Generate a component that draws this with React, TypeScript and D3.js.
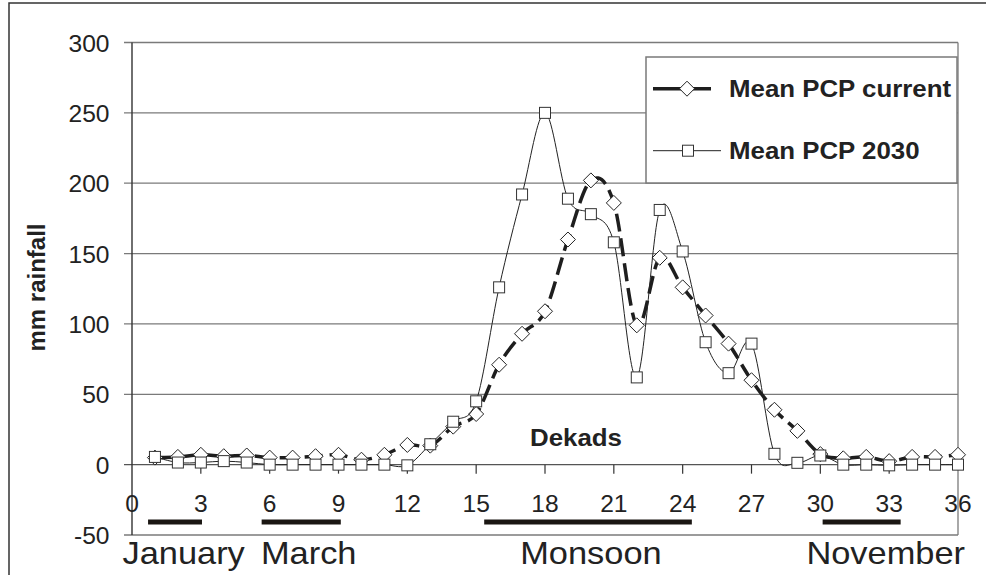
import React from 'react';
import * as d3 from 'd3';

// ---- Data ----
const dekads = [1, 2, 3, 4, 5, 6, 7, 8, 9, 10, 11, 12, 13, 14, 15, 16, 17, 18, 19, 20, 21, 22, 23, 24, 25, 26, 27, 28, 29, 30, 31, 32, 33, 34, 35, 36];
const meanPcpCurrent = [5, 5.5, 7, 6, 6.5, 5, 5, 6, 7, 3.5, 7, 14, 13.5, 27, 36, 71, 93, 109, 160, 202, 186, 99, 147, 126, 106, 86, 60, 39, 24, 7.5, 4.5, 5.5, 2.5, 5.5, 5.5, 7];
const meanPcp2030 = [5.5, 1.5, 1.5, 2.5, 1.5, 0, 0, 0, 0, 0, 0, -0.5, 14.5, 30.5, 45, 126, 192, 250, 189, 178, 158, 62, 181, 151.5, 87, 65, 86, 7.7, 1.3, 6.5, 0, 0, -0.5, 0, 0, 0];
const xTicks = [0, 3, 6, 9, 12, 15, 18, 21, 24, 27, 30, 33, 36];
const yTicks = [-50, 0, 50, 100, 150, 200, 250, 300];
const periodNames = ['January', 'March', 'Monsoon', 'November'];
const periodStart = [0.7, 5.65, 15.35, 30.1];
const periodEnd = [3.05, 9.1, 24.4, 33.5];
const periodLabelAt = [2.25, 7.7, 20.0, 32.85];
const seriesNames = ['Mean PCP current', 'Mean PCP 2030'];

const FONT = '"Liberation Sans", Arial, sans-serif';
const INK = '#222';
const GRID = '#7a7a7a';

function T(props: {
  x: number; y: number; sx?: number; anchor?: string; size: number; weight?: string; children: React.ReactNode;
}) {
  const { x, y, sx = 1, anchor = 'start', size, weight = 'normal', children } = props;
  return (
    <text
      transform={`translate(${x},${y}) scale(${sx},1)`}
      textAnchor={anchor as any}
      fontSize={size}
      fontWeight={weight}
      fontFamily={FONT}
      fill={INK}
    >
      {children}
    </text>
  );
}

export default function App() {
  const W = 986, H = 575;
  const x = d3.scaleLinear().domain([0, 36]).range([132, 958]);
  const y = d3.scaleLinear().domain([-50, 300]).range([535, 42.5]);

  const line = d3
    .line<number>()
    .x((_, i) => x(dekads[i]))
    .y((d) => y(d))
    .curve(d3.curveCardinal.tension(0));

  const diamond = (cx: number, cy: number, r = 7.5) =>
    `M${cx},${cy - r}L${cx + r},${cy}L${cx},${cy + r}L${cx - r},${cy}Z`;
  const sq = 11;

  const x0 = x(0), x1 = x(36), yTop = y(300), yBot = y(-50), yZero = y(0);

  return (
    <svg width={W} height={H} style={{ position: 'absolute', left: 0, top: 0, background: '#fff' }}>
      {/* outer chart border (clipped at right/bottom) */}
      <rect x={9} y={3} width={990} height={600} fill="#fff" stroke="#333" strokeWidth={1.5} />

      {/* gridlines */}
      {yTicks.map((t) => (
        <line key={t} x1={x0 - 8} x2={x1} y1={y(t)} y2={y(t)} stroke={t === 0 ? '#555' : GRID} strokeWidth={1.3} />
      ))}
      {/* plot area right border */}
      <line x1={x1} x2={x1} y1={yTop} y2={yBot} stroke={GRID} strokeWidth={1.3} />
      {/* y axis */}
      <line x1={x0} x2={x0} y1={yTop} y2={yBot} stroke="#333" strokeWidth={1.4} />

      {/* x ticks on zero line */}
      {xTicks.filter((t) => t > 0 && t < 36).map((t) => (
        <line key={t} x1={x(t)} x2={x(t)} y1={yZero} y2={yZero + 9} stroke="#333" strokeWidth={1.2} />
      ))}

      {/* y tick labels */}
      {yTicks.map((t) => (
        <T key={t} x={109.5} y={y(t) + 9} anchor="end" size={23} sx={1.07}>{t}</T>
      ))}
      {/* x tick labels */}
      {xTicks.map((t) => (
        <T key={t} x={x(t)} y={511.5} anchor="middle" size={23} sx={1.07}>{t}</T>
      ))}

      {/* y axis title */}
      <text
        transform="translate(45,287.5) rotate(-90)"
        textAnchor="middle"
        fontSize={24}
        fontWeight="bold"
        fontFamily={FONT}
        fill={INK}
      >
        mm rainfall
      </text>

      {/* Dekads label */}
      <T x={576} y={446} anchor="middle" size={23.5} weight="bold" sx={1.1}>Dekads</T>

      {/* period bars & labels */}
      {periodNames.map((n, i) => (
        <g key={n}>
          <rect x={x(periodStart[i])} y={519.5} width={x(periodEnd[i]) - x(periodStart[i])} height={5} fill="#1a1612" />
          <T x={x(periodLabelAt[i])} y={564} anchor="middle" size={31} sx={1.11}>{n}</T>
        </g>
      ))}

      {/* series: current (dashed, thick) */}
      <path d={line(meanPcpCurrent) || ''} fill="none" stroke="#1e1e1e" strokeWidth={3.5} strokeDasharray="18 7" />
      {meanPcpCurrent.map((v, i) => (
        <path key={i} d={diamond(x(dekads[i]), y(v))} fill="#fff" stroke="#222" strokeWidth={1} />
      ))}

      {/* series: 2030 (thin) */}
      <path d={line(meanPcp2030) || ''} fill="none" stroke="#222" strokeWidth={1} />
      {meanPcp2030.map((v, i) => (
        <rect key={i} x={x(dekads[i]) - sq / 2} y={y(v) - sq / 2} width={sq} height={sq} fill="#fff" stroke="#333" strokeWidth={1} />
      ))}

      {/* legend */}
      <g>
        <rect x={646} y={57} width={311} height={126} fill="#fff" stroke={GRID} strokeWidth={1.5} />
        <line x1={653} x2={711} y1={88.7} y2={88.7} stroke="#1e1e1e" strokeWidth={3.5} />
        <path d={diamond(687, 88.7)} fill="#fff" stroke="#222" strokeWidth={1} />
        <T x={729} y={97} size={23.5} weight="bold" sx={1.1}>{seriesNames[0]}</T>

        <line x1={653} x2={721} y1={150.7} y2={150.7} stroke="#222" strokeWidth={1} />
        <rect x={688 - sq / 2} y={150.7 - sq / 2} width={sq} height={sq} fill="#fff" stroke="#333" strokeWidth={1} />
        <T x={729} y={158.5} size={23.5} weight="bold" sx={1.1}>{seriesNames[1]}</T>
      </g>
    </svg>
  );
}
